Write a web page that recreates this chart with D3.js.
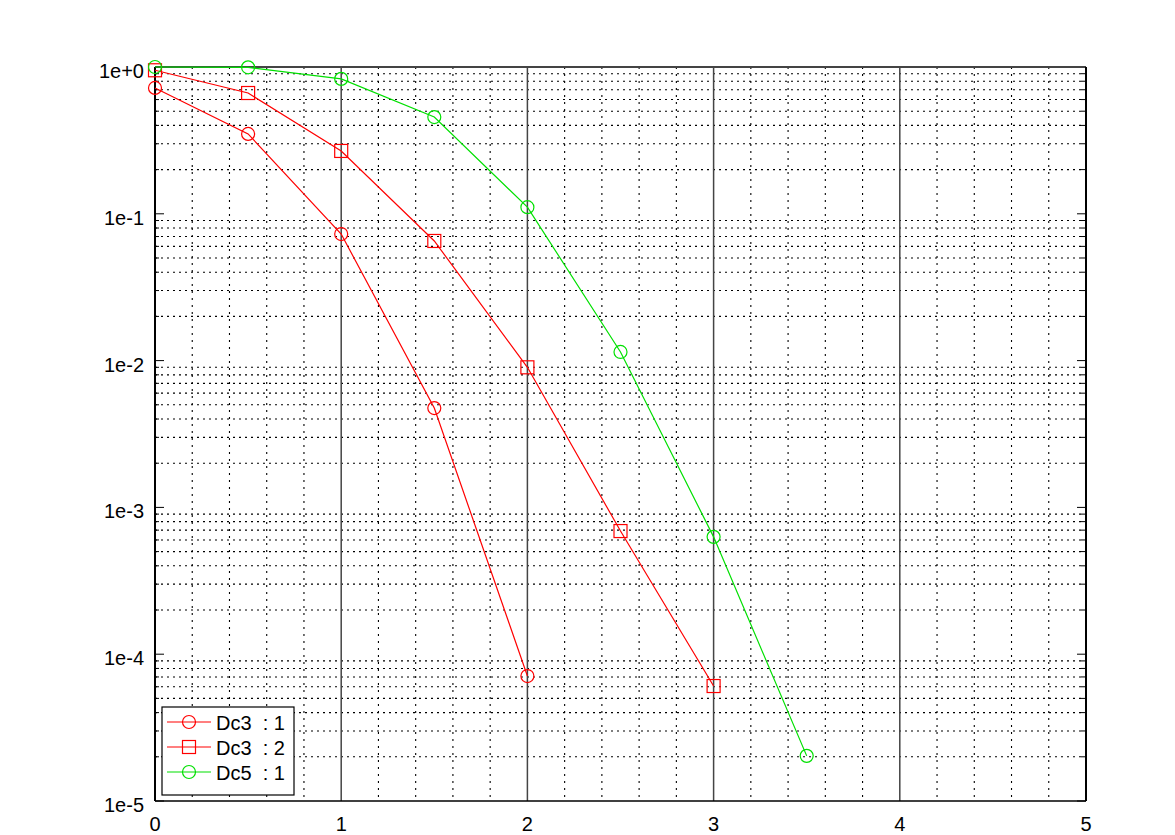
<!DOCTYPE html>
<html>
<head>
<meta charset="utf-8">
<script src="https://cdn.jsdelivr.net/npm/d3@7"></script>
<style>
  body { margin: 0; background: #fff; }
  svg text { font-family: "Liberation Sans", Arial, sans-serif; font-size: 20px; fill: #000; }
</style>
</head>
<body>
<div id="chart"></div>
<script>
// series data
const xDc3a = [0, 0.5, 1, 1.5, 2];
const yDc3a = [0.72, 0.35, 0.0728, 0.00475, 7.1e-5];

const xDc3b = [0, 0.5, 1, 1.5, 2, 2.5, 3];
const yDc3b = [0.95, 0.665, 0.268, 0.0653, 0.009, 6.9e-4, 6.07e-5];

const xDc5 = [0, 0.5, 1, 1.5, 2, 2.5, 3, 3.5];
const yDc5 = [1.0, 0.995, 0.83, 0.456, 0.111, 0.01145, 6.3e-4, 2.03e-5];

const seriesNames = ["Dc3  : 1", "Dc3  : 2", "Dc5  : 1"];
const seriesColors = ["#ff0000", "#ff0000", "#00e000"];
const seriesMarkers = ["circle", "square", "circle"];

const xTicks = [0, 1, 2, 3, 4, 5];
const yTicks = [1, 1e-1, 1e-2, 1e-3, 1e-4, 1e-5];
const yTickLabels = ["1e+0", "1e-1", "1e-2", "1e-3", "1e-4", "1e-5"];

const width = 1175, height = 835;
const margin = { top: 67, right: 89, bottom: 34, left: 155 };

const svg = d3.select("#chart").append("svg")
  .attr("width", width)
  .attr("height", height);

const x = d3.scaleLinear().domain([0, 5]).range([margin.left, width - margin.right]);
const y = d3.scaleLog().domain([1e-5, 1]).range([height - margin.bottom, margin.top]);

const pLeft = x(0), pRight = x(5), pTop = y(1), pBottom = y(1e-5);

// minor grid, dotted
const xMinor = d3.range(0, 5.001, 0.2).filter(v => Math.abs(v - Math.round(v)) > 1e-6);
const yMinor = [];
for (let e = -5; e < 0; e++) {
  for (let k = 2; k <= 9; k++) yMinor.push(k * Math.pow(10, e));
}

const grid = svg.append("g");
grid.selectAll(".vminor").data(xMinor).join("line")
  .attr("x1", d => x(d)).attr("x2", d => x(d))
  .attr("y1", pTop).attr("y2", pBottom)
  .attr("stroke", "#000").attr("stroke-width", 1.1)
  .attr("stroke-dasharray", "2,5");

grid.selectAll(".hminor").data(yMinor).join("line")
  .attr("x1", pLeft).attr("x2", pRight)
  .attr("y1", d => y(d)).attr("y2", d => y(d))
  .attr("stroke", "#000").attr("stroke-width", 1.1)
  .attr("stroke-dasharray", "2,4");

// major vertical grid, solid
grid.selectAll(".vmajor").data(xTicks.slice(1, -1)).join("line")
  .attr("x1", d => x(d)).attr("x2", d => x(d))
  .attr("y1", pTop).attr("y2", pBottom)
  .attr("stroke", "#444").attr("stroke-width", 1.5);

// inward ticks on left and right
const ticks = svg.append("g").attr("stroke", "#000").attr("stroke-width", 1);
ticks.selectAll(".ly").data(yTicks).join("line")
  .attr("x1", pLeft).attr("x2", pLeft + 9)
  .attr("y1", d => y(d)).attr("y2", d => y(d));
ticks.selectAll(".ry").data(yTicks).join("line")
  .attr("x1", pRight).attr("x2", pRight - 9)
  .attr("y1", d => y(d)).attr("y2", d => y(d));
ticks.selectAll(".lym").data(yMinor).join("line")
  .attr("x1", pLeft).attr("x2", pLeft + 4)
  .attr("y1", d => y(d)).attr("y2", d => y(d));
ticks.selectAll(".rym").data(yMinor).join("line")
  .attr("x1", pRight).attr("x2", pRight - 5)
  .attr("y1", d => y(d)).attr("y2", d => y(d));

// frame
svg.append("line").attr("x1", pLeft).attr("x2", pRight).attr("y1", pTop).attr("y2", pTop)
  .attr("stroke", "#444").attr("stroke-width", 2);
svg.append("line").attr("x1", pLeft).attr("x2", pRight).attr("y1", pBottom).attr("y2", pBottom)
  .attr("stroke", "#000").attr("stroke-width", 1.5);
svg.append("line").attr("x1", pLeft).attr("x2", pLeft).attr("y1", pTop).attr("y2", pBottom)
  .attr("stroke", "#000").attr("stroke-width", 2);
svg.append("line").attr("x1", pRight).attr("x2", pRight).attr("y1", pTop).attr("y2", pBottom)
  .attr("stroke", "#000").attr("stroke-width", 2);

// tick labels
svg.append("g").selectAll("text").data(yTicks).join("text")
  .attr("x", pLeft - 11)
  .attr("y", d => y(d) + 11)
  .attr("text-anchor", "end")
  .text((d, i) => yTickLabels[i]);

svg.append("g").selectAll("text").data(xTicks).join("text")
  .attr("x", d => x(d))
  .attr("y", pBottom + 30)
  .attr("text-anchor", "middle")
  .text(d => d);

// series
const allSeries = [
  { xs: xDc3a, ys: yDc3a },
  { xs: xDc3b, ys: yDc3b },
  { xs: xDc5, ys: yDc5 }
];

const line = d3.line().x(d => x(d[0])).y(d => y(d[1]));

function drawMarker(g, kind, cx, cy, color) {
  if (kind === "circle") {
    g.append("circle").attr("cx", cx).attr("cy", cy).attr("r", 6.5)
      .attr("fill", "none").attr("stroke", color).attr("stroke-width", 1.2);
  } else {
    g.append("rect").attr("x", cx - 6.5).attr("y", cy - 6.5)
      .attr("width", 13).attr("height", 13)
      .attr("fill", "none").attr("stroke", color).attr("stroke-width", 1.2);
  }
}

allSeries.forEach((s, i) => {
  const pts = s.xs.map((v, j) => [v, s.ys[j]]);
  const g = svg.append("g");
  g.append("path").datum(pts).attr("d", line)
    .attr("fill", "none").attr("stroke", seriesColors[i]).attr("stroke-width", 1.2);
  pts.forEach(p => drawMarker(g, seriesMarkers[i], x(p[0]), y(p[1]), seriesColors[i]));
});

// legend
const lg = svg.append("g");
lg.append("rect").attr("x", 162).attr("y", 707).attr("width", 132).attr("height", 88)
  .attr("fill", "#fff").attr("stroke", "#000").attr("stroke-width", 1.2);
seriesNames.forEach((name, i) => {
  const ly = 722 + i * 25;
  lg.append("line").attr("x1", 167).attr("x2", 211).attr("y1", ly).attr("y2", ly)
    .attr("stroke", seriesColors[i]).attr("stroke-width", 1.2);
  drawMarker(lg, seriesMarkers[i], 189, ly, seriesColors[i]);
  lg.append("text").attr("x", 216).attr("y", ly + 8)
    .style("white-space", "pre")
    .text(name);
});
</script>
</body>
</html>
